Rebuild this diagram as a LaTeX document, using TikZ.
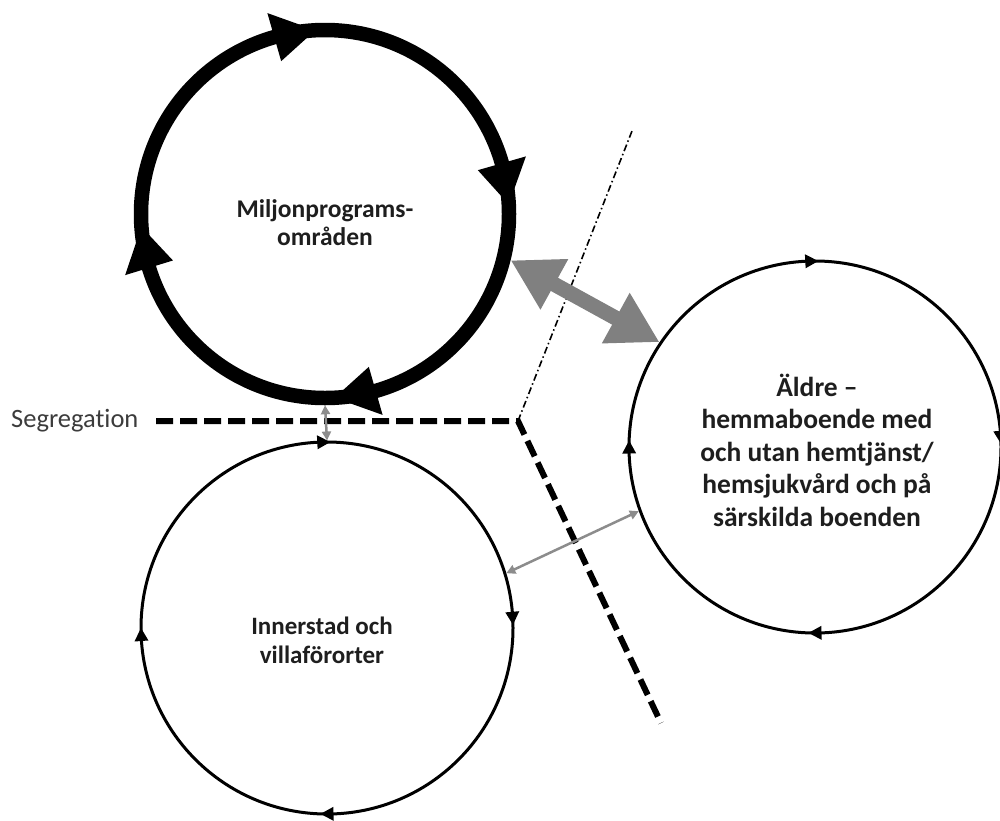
\documentclass[tikz,border=0pt]{standalone}
\usepackage{fontspec}
\setmainfont{Carlito}[Ligatures=NoCommon]
\usetikzlibrary{arrows.meta}
\definecolor{arrgray}{RGB}{128,128,128}
\definecolor{thingray}{RGB}{140,140,140}
\definecolor{txtgray}{RGB}{60,60,60}
\definecolor{txtdark}{RGB}{30,30,30}
\newcommand\circarrow[5]{%
  \fill[shift={(#1)}] ({#3}:{#2-#4}) -- ({#3}:{#2+#4}) -- ({#3-#5}:{#2}) -- cycle;}
\begin{document}
\begin{tikzpicture}[x=1pt,y=1pt,
  thickring/.style={draw=black, circle, inner sep=0pt, line width=14.5pt, minimum size=368pt},
  thinring/.style={draw=black, circle, inner sep=0pt, line width=3pt, minimum size=372pt},
  boldlabel/.style={align=center, text=txtdark, font=\bfseries\fontsize{25.5}{28}\selectfont},
  biglabel/.style={align=center, text=txtdark, font=\bfseries\fontsize{27.5}{32.5}\selectfont},
  seglabel/.style={text=txtgray, font=\fontsize{26.5}{30}\selectfont},
  segline/.style={black, line width=6pt, dash pattern=on 17pt off 7pt},
  borderline/.style={black, line width=1.6pt, dash pattern=on 7pt off 3pt on 1.5pt off 3pt},
  bigdouble/.style={arrgray, line width=15pt, {Triangle[length=50pt,width=54pt]}-{Triangle[length=50pt,width=54pt]}},
  smalldouble/.style={thingray, line width=2.5pt, {Triangle[length=9pt,width=9pt]}-{Triangle[length=9pt,width=9pt]}}
]
\useasboundingbox (0,0) rectangle (1000,-820);

% circles
\node[thickring] (c1) at (325,-214) {};
\node[thinring] (c2) at (327,-628) {};
\node[thinring] (c3) at (815,-447) {};

% arrowheads on circles (clockwise flow)
\circarrow{c1.center}{184}{106}{25}{13}
\circarrow{c1.center}{184}{16}{25}{13}
\circarrow{c1.center}{184}{-74}{25}{13}
\circarrow{c1.center}{184}{197}{25}{13}

\circarrow{c2.center}{186}{93}{7}{4}
\circarrow{c2.center}{186}{5}{7}{4}
\circarrow{c2.center}{186}{-88}{7}{4}
\circarrow{c2.center}{186}{184}{7}{4}

\circarrow{c3.center}{186}{93}{7}{4}
\circarrow{c3.center}{186}{5}{7}{4}
\circarrow{c3.center}{186}{-88}{7}{4}
\circarrow{c3.center}{186}{182}{7}{4}

% texts
\node[boldlabel] (t1) at (325,-223) {Miljonprograms-\\områden};
\node[boldlabel, font=\fontsize{25}{29}\selectfont\bfseries] (t2) at (322,-640) {Innerstad och\\villaförorter};
\node[biglabel] (t3) at (817,-450) {Äldre –\\hemmaboende med\\och utan hemtjänst/\\hemsjukvård och på\\särskilda boenden};

% segregation line
\node[seglabel, anchor=west, inner sep=0pt] (seg) at (11,-421) {Segregation};
\coordinate (s0) at (156,-421);
\coordinate (corner) at (518,-421);
\coordinate (s1) at (661,-723);
\draw[segline] (s0) -- (corner) -- (s1);

% dash-dot border line
\coordinate (b1) at (632,-131);
\draw[borderline] (corner) -- (b1);

% double arrows
\draw[bigdouble] (c1.-14) -- (c3.146);
\draw[smalldouble] (c1.-90) -- (c2.90);
\draw[smalldouble] (c2.17) -- (c3.200);
\end{tikzpicture}
\end{document}
